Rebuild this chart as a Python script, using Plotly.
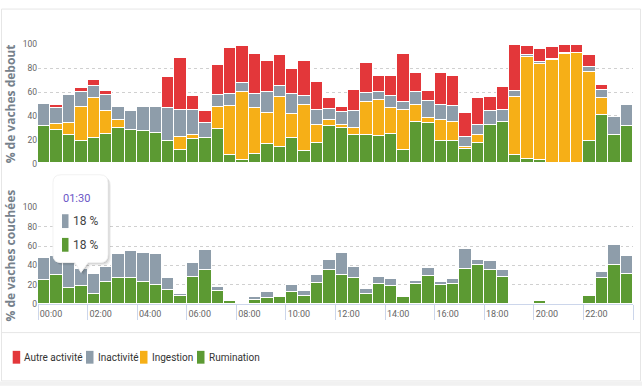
import plotly.graph_objects as go

# ---------------- data ----------------
times = [f"{h:02d}:{m:02d}" for h in range(24) for m in (0, 30)]
hours = [i * 0.5 for i in range(len(times))]
tick_hours = list(range(0, 25, 2))
tick_labels = ["00:00", "02:00", "04:00", "06:00", "08:00", "10:00",
               "12:00", "14:00", "16:00", "18:00", "20:00", "22:00", ""]

debout_rumination = [31, 28, 24, 19, 21, 25, 29.5, 28, 27.5, 25.5, 19, 11,
                     20, 21.5, 29, 7, 3, 8, 16.5, 14, 21, 10.5, 17, 31,
                     29.5, 23.5, 23.5, 23, 25, 11, 34.5, 34, 19, 19, 12, 17,
                     32, 35, 7, 4, 2.5, 0.5, 0, 0, 19, 40.5, 23.5, 31.5]
debout_ingestion = [0, 5, 10, 28, 34, 18.5, 7, 0, 0, 0, 0, 11.5,
                    4, 0, 18, 41, 57, 38, 26, 42, 20, 38, 15, 5.5,
                    3, 6.5, 28, 30, 21.5, 33.5, 14, 4, 17.5, 16, 2, 6.5,
                    0, 0, 49, 85, 80.5, 86, 92, 92.5, 57.5, 14.5, 0, 0]
debout_inactivite = [19, 13.5, 23, 13, 10, 13.5, 11, 16, 20, 22, 27, 22,
                     21, 12, 10, 10, 7, 12, 17, 9, 17, 8, 13, 9,
                     10.5, 14, 7.5, 6.5, 10, 6.5, 11, 14, 12.5, 13, 8.5, 9,
                     11.5, 10, 4.5, 1.5, 2, 1, 0.5, 0, 4, 6.5, 15, 17]
debout_autre = [0, 2, 0, 3, 4.5, 4, 0, 0, 0, 0, 26.5, 44,
                11.5, 10, 25, 39, 31, 34, 26.5, 26, 21, 29, 23, 9,
                4, 17.5, 25.5, 13.5, 17, 41, 16, 9, 27, 25.5, 19.5, 22,
                12, 19, 38.5, 8, 10.5, 10, 7, 7, 10.5, 4, 0, 0]

couchees_rumination = [24.5, 29.6, 16.7, 18, 10, 22.5, 27, 27, 22, 19.5, 14.3, 7.5,
                       28, 34.7, 13.3, 2.4, 0, 3.4, 5.4, 6.5, 12, 8, 21, 34.7,
                       29.6, 27, 10, 20.4, 18.4, 6.5, 20.4, 28.6, 19, 20.4, 35.4, 40.5,
                       34.7, 28, 0, 0, 2.5, 0, 0, 0, 7.5, 27, 39.5, 30.3]
couchees_inactivite = [23, 19.7, 28, 18, 20.5, 15, 24, 27.5, 30, 32, 12.6, 2.5,
                       14.5, 21, 4.4, 0, 0, 4, 7, 0, 7, 5.4, 9, 10,
                       23, 10.5, 5, 6.8, 7.5, 0, 3, 8.8, 3, 5, 21.4, 4.4,
                       9.2, 7, 0, 0, 0, 0, 0, 0, 0, 6, 21.4, 19.4]

legend_names = ["Autre activité", "Inactivité", "Ingestion", "Rumination"]
tooltip_time = "01:30"
tooltip_values = ["18 %", "18 %"]

# ---------------- style ----------------
RED = "#E3373A"
GRAY = "#8E9DAA"
ORANGE = "#F6AF17"
GREEN = "#5C9A33"
COLORS = {"Autre activité": RED, "Inactivité": GRAY, "Ingestion": ORANGE, "Rumination": GREEN}
FONT = "Roboto, Liberation Sans, sans-serif"

W, H = 642, 387
ML, MR, MT, MB = 38, 9, 10, 83
PW, PH = W - ML - MR, H - MT - MB


def px(x):
    return (x - ML) / PW


def py(y):
    return (H - MB - y) / PH


fig = go.Figure()

top_series = [("Rumination", debout_rumination), ("Ingestion", debout_ingestion),
              ("Inactivité", debout_inactivite), ("Autre activité", debout_autre)]
for name, vals in top_series:
    fig.add_trace(go.Bar(
        x=hours, y=vals, name=name, width=0.5, offset=0,
        marker=dict(color=COLORS[name], line=dict(color="white", width=1.5)),
        xaxis="x", yaxis="y", showlegend=False, hoverinfo="skip"))

bottom_series = [("Rumination", couchees_rumination), ("Inactivité", couchees_inactivite)]
for name, vals in bottom_series:
    fig.add_trace(go.Bar(
        x=hours, y=vals, name=name, width=0.5, offset=0,
        marker=dict(color=COLORS[name], line=dict(color="white", width=1.5)),
        xaxis="x2", yaxis="y2", showlegend=False, hoverinfo="skip"))

grid = dict(showgrid=True, gridcolor="#d0d0d0", griddash="dot", gridwidth=1,
            zeroline=False, range=[0, 100], tickvals=[0, 20, 40, 60, 80, 100],
            tickfont=dict(size=8.5, color="#666666", family=FONT), fixedrange=True)
title_font = dict(size=12, color="#76818b", family="Open Sans", weight="bold")

fig.update_layout(
    width=W, height=H, autosize=False,
    margin=dict(l=ML, r=MR, t=MT, b=MB),
    paper_bgcolor="white", plot_bgcolor="white",
    barmode="stack", bargap=0, hovermode=False,
    font=dict(family=FONT),
    xaxis=dict(domain=[0, 1], range=[0, 24], anchor="y", showticklabels=False,
               showgrid=False, zeroline=False, showline=False, ticks=""),
    yaxis=dict(domain=[py(161.7), py(40.7)], anchor="x",
               title=dict(text="% de vaches debout", font=title_font, standoff=4), **grid),
    xaxis2=dict(domain=[0, 1], range=[0, 24], anchor="y2",
                tickvals=tick_hours, ticktext=tick_labels,
                ticks="outside", ticklen=15, tickcolor="#ccd6eb", tickwidth=1,
                showline=True, linecolor="#ccd6eb", linewidth=1,
                showgrid=False, zeroline=False,
                ticklabelshift=13, ticklabelstandoff=-14,
                tickfont=dict(size=9, color="#666666", family=FONT)),
    yaxis2=dict(domain=[0, py(206)], anchor="x2",
                title=dict(text="% de vaches couchées", font=title_font, standoff=4), **grid),
)

shapes = []
annotations = []

# card frame
shapes.append(dict(type="rect", xref="paper", yref="paper", x0=px(1.5), x1=px(640.5),
                   y0=py(382), y1=py(5), line=dict(color="#e6e6e6", width=1),
                   fillcolor="rgba(0,0,0,0)", layer="below"))
shapes.append(dict(type="line", xref="paper", yref="paper", x0=px(1.5), x1=px(640.5),
                   y0=py(333), y1=py(333), line=dict(color="#e6e6e6", width=1)))
shapes.append(dict(type="rect", xref="paper", yref="paper", x0=px(0), x1=px(642),
                   y0=py(387), y1=py(382.5), line=dict(width=0), fillcolor="#f1f1f1"))

# legend (manual, Highcharts-like)
leg_x = [12.7, 86, 140, 197]
for name, lx in zip(legend_names, leg_x):
    shapes.append(dict(type="rect", xref="paper", yref="paper", x0=px(lx), x1=px(lx + 7.5),
                       y0=py(364.5), y1=py(351.5), line=dict(width=0), fillcolor=COLORS[name]))
    annotations.append(dict(text=name, xref="paper", yref="paper", x=px(lx + 9.5), y=py(358),
                            xanchor="left", yanchor="middle", showarrow=False,
                            font=dict(size=10, color="#333333", family=FONT)))


# tooltip
def tip_path(dx=0.0, dy=0.0):
    x0, x1, y0, y1, r = 53 + dx, 108 + dx, 173 + dy, 262 + dy, 8
    pts = [
        ("M", x0 + r, y0), ("L", x1 - r, y0), ("Q", x1, y0, x1, y0 + r),
        ("L", x1, y1 - r), ("Q", x1, y1, x1 - r, y1),
        ("L", 88 + dx, y1), ("L", 81 + dx, 272 + dy), ("L", 75 + dx, y1),
        ("L", x0 + r, y1), ("Q", x0, y1, x0, y1 - r),
        ("L", x0, y0 + r), ("Q", x0, y0, x0 + r, y0),
    ]
    out = []
    for p in pts:
        cmd = p[0]
        coords = p[1:]
        vals = []
        for i in range(0, len(coords), 2):
            vals.append(f"{px(coords[i]):.5f},{py(coords[i + 1]):.5f}")
        out.append(cmd + " " + " ".join(vals))
    return " ".join(out) + " Z"


for d, op in [(3, 0.05), (2, 0.07), (1, 0.09)]:
    shapes.append(dict(type="path", xref="paper", yref="paper", path=tip_path(d, d),
                       fillcolor=f"rgba(0,0,0,{op})", line=dict(width=0)))
shapes.append(dict(type="path", xref="paper", yref="paper", path=tip_path(),
                   fillcolor="white", line=dict(color="#f2f2f2", width=1)))

annotations.append(dict(text=tooltip_time, xref="paper", yref="paper", x=px(60.5), y=py(197),
                        xanchor="left", yanchor="middle", showarrow=False,
                        font=dict(size=11, color="#6a55c6", family=FONT)))
for (name, val, cy) in [("Inactivité", tooltip_values[0], 220), ("Rumination", tooltip_values[1], 244)]:
    shapes.append(dict(type="rect", xref="paper", yref="paper", x0=px(62), x1=px(68.5),
                       y0=py(cy + 7), y1=py(cy - 7), line=dict(width=0), fillcolor=COLORS[name]))
    annotations.append(dict(text=val, xref="paper", yref="paper", x=px(70.5), y=py(cy),
                            xanchor="left", yanchor="middle", showarrow=False,
                            font=dict(size=12, color="#444444", family=FONT)))

fig.update_layout(shapes=shapes, annotations=annotations)
fig.write_html("out.html", config={"displayModeBar": False},
               post_script="document.body.style.margin='0';")
